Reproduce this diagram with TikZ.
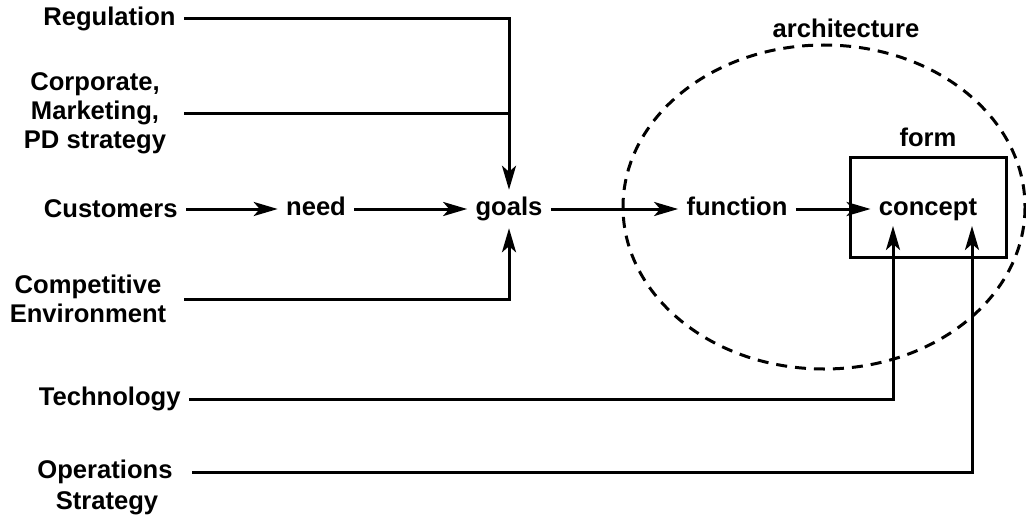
\documentclass[tikz,border=0pt]{standalone}
\usepackage{fontspec}
\setmainfont{Liberation Sans}
\usetikzlibrary{arrows.meta, positioning}

\tikzset{
  lbl/.style={font=\bfseries\fontsize{12.8}{14.6}\selectfont, inner sep=4pt, align=center},
  word/.style={lbl, text height=1.6ex, text depth=.45ex},
  wire/.style={line width=1.5pt},
  feed/.style={wire, -{Stealth[length=12pt, width=7pt, inset=3pt]}},
  formbox/.style={draw, line width=1.5pt, minimum width=78pt, minimum height=50pt, inner sep=0pt},
}

\begin{document}
\begin{tikzpicture}[x=0.5pt, y=-0.5pt]
\useasboundingbox (0,0) rectangle (1026,519);

% architecture boundary
\draw[line width=1.5pt, dash pattern=on 5.5pt off 4pt] (824,207) ellipse [x radius=201, y radius=162];
\node[lbl] (arch) at (846, 28) {architecture};

% form box with concept inside
\node[formbox, label={[lbl]above:form}] (form) at (928, 207) {};
\node[word] (concept) at (928, 209) {concept};
\coordinate (techin) at (893, 226);
\coordinate (opsin) at (972, 226);

% inputs on the left
\node[lbl, anchor=east] (reg) at (184, 19) {Regulation};
\node[lbl] (corp) at (95, 113) {Corporate,\\Marketing,\\PD strategy};
\node[lbl, anchor=east] (cust) at (186, 209) {Customers};
\node[lbl] (comp) at (88, 299) {Competitive\\Environment};
\node[lbl, anchor=east] (tech) at (189, 399) {Technology};
\node[lbl] (ops) at (105, 472) {Operations};
\node[lbl] (opsb) at (107, 503) {Strategy};

% main chain
\node[word] (need) at (316, 209) {need};
\node[word] (goals) at (509, 209) {goals};
\node[word] (func) at (737, 209) {function};

\draw[feed] (cust) -- (need);
\draw[feed] (need) -- (goals);
\draw[feed] (goals) -- (func);
\draw[feed] (func) -- (concept);

% influences on goals
\draw[feed] (reg.east) -| (goals.north);
\draw[wire] (corp.east -| reg.east) -- (corp.east -| goals.north);
\draw[feed] (comp.east -| reg.east) -| (goals.south);

% influences on concept
\draw[feed] (tech.east) -| (techin);
\draw[feed] ([xshift=4pt]ops.east -| reg.east) -| (opsin);
\end{tikzpicture}
\end{document}
